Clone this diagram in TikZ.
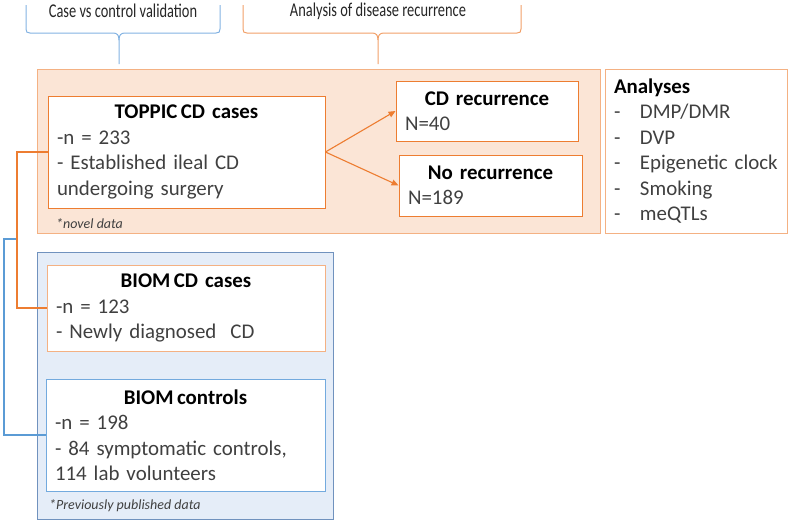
\documentclass[tikz,border=0pt]{standalone}
\usepackage{fontspec}
\setmainfont{Carlito}
\usepackage{graphicx}
\usetikzlibrary{arrows,arrows.meta,%
                shapes,positioning}

\definecolor{orline}{RGB}{237,125,49}
\definecolor{orpale}{RGB}{244,177,131}
\definecolor{orfill}{RGB}{251,229,214}
\definecolor{blline}{RGB}{91,155,213}
\definecolor{blbox}{RGB}{115,170,222}
\definecolor{blpanel}{RGB}{112,146,190}
\definecolor{blfill}{RGB}{229,237,248}
\definecolor{orbrace}{RGB}{241,160,105}
\definecolor{blbrace}{RGB}{130,178,226}
\definecolor{bodytext}{RGB}{64,64,64}

\newcommand{\boxtitle}[1]{\hspace*{\stretch{1}}\mbox{\textcolor{black}{\textbf{#1}}}\hspace*{\stretch{1}}\null}
\newcommand{\hdr}[1]{\scalebox{0.74}[1]{#1}}
\newcommand{\analysisitem}[1]{\makebox[26pt][l]{-}#1}

\tikzset{
  panel/.style={rectangle, line width=0.8pt, inner sep=0pt},
  casebox/.style={rectangle, draw, fill=white, line width=0.9pt, align=left,
    inner xsep=9pt, inner ysep=0pt, text=bodytext,
    font=\fontsize{20.9}{25.5}\selectfont},
  note/.style={inner sep=0pt, anchor=west, text=bodytext,
    font=\fontsize{14}{16}\selectfont\itshape},
  hdrtext/.style={inner sep=0pt, text=black!85,
    font=\fontsize{19.5}{22}\selectfont},
  brace/.style={line width=1pt},
  link/.style={line width=2pt},
  split/.style={orline, line width=1.1pt, -{Triangle[length=7pt,width=6pt]}}
}

\begin{document}
\begin{tikzpicture}[x=1pt,y=-1pt]
\useasboundingbox (0,0) rectangle (789,522);
\node[hdrtext] (casectl) at (123,11) {\hdr{Case vs control validation}};
\node[hdrtext] (recur) at (378,11) {\hdr{Analysis of disease recurrence}};
\draw[brace,blbrace] (26,5) -- (26,29) .. controls (26,32) and (27,33) .. (30,33) -- (113,33) .. controls (117,33) and (119,35) .. (119,40) -- (119,64);
\draw[brace,blbrace] (119,40) .. controls (119,35) and (121,33) .. (125,33) -- (216,33) .. controls (219,33) and (220,32) .. (220,29) -- (220,5);
\draw[brace,orbrace] (243,5) -- (243,29) .. controls (243,32) and (244,33) .. (247,33) -- (372,33) .. controls (376,33) and (378,35) .. (378,40) -- (378,64);
\draw[brace,orbrace] (378,40) .. controls (378,35) and (380,33) .. (384,33) -- (517,33) .. controls (520,33) and (521,32) .. (521,29) -- (521,5);
\node[panel,draw=orpale,fill=orfill,minimum width=563,minimum height=164] (orpanel) at (318.5,151) {};
\node[panel,draw=blpanel,fill=blfill,minimum width=296,minimum height=267] (blpanel) at (185,385.5) {};
\node[casebox,draw=orpale,minimum width=182,minimum height=164,text width=164] (analyses) at (696,151)
  {\textcolor{black}{\textbf{Analyses}}\\ \analysisitem{DMP/DMR}\\ \analysisitem{DVP}\\ \analysisitem{Epigenetic clock}\\ \analysisitem{Smoking}\\ \analysisitem{meQTLs}};
\node[casebox,draw=orline,minimum width=277,minimum height=112,text width=259] (toppic) at (186.5,152)
  {\boxtitle{TOPPIC\,CD cases}\\ -n = 233\\ - Established ileal CD\\ undergoing surgery};
\node[casebox,draw=orline,minimum width=182,minimum height=60,text width=164] (cdrec) at (487,111)
  {\boxtitle{CD recurrence}\\ N=40};
\node[casebox,draw=orline,minimum width=183,minimum height=61,text width=165] (norec) at (490.5,185.5)
  {\boxtitle{No recurrence}\\ N=189};
\node[casebox,draw=orpale,minimum width=278,minimum height=86,text width=260] (biomcd) at (186,308)
  {\boxtitle{BIOM\,CD cases}\\ -n = 123\\ - Newly diagnosed\ \ CD};
\node[casebox,draw=blbox,minimum width=279,minimum height=112,text width=261] (biomctl) at (185.5,435)
  {\boxtitle{BIOM\,controls}\\ -n = 198\\ - 84 symptomatic controls,\\ 114 lab volunteers};
\node[note] (novel) at (56,224) {*novel data};
\node[note] (prevpub) at (49,506) {*Previously published data};
\draw[split] (toppic.east) -- (cdrec.west);
\draw[split] (toppic.east) -- (norec.west);
\coordinate (bjoin) at (17,239);
\coordinate (bbend) at (4,239);
\coordinate (obend) at (17,152);
\draw[link,blline] (bjoin) -- (bbend) |- (biomctl.west);
\draw[link,orline] (toppic.west) -- (obend) |- (biomcd.west);
\end{tikzpicture}
\end{document}
